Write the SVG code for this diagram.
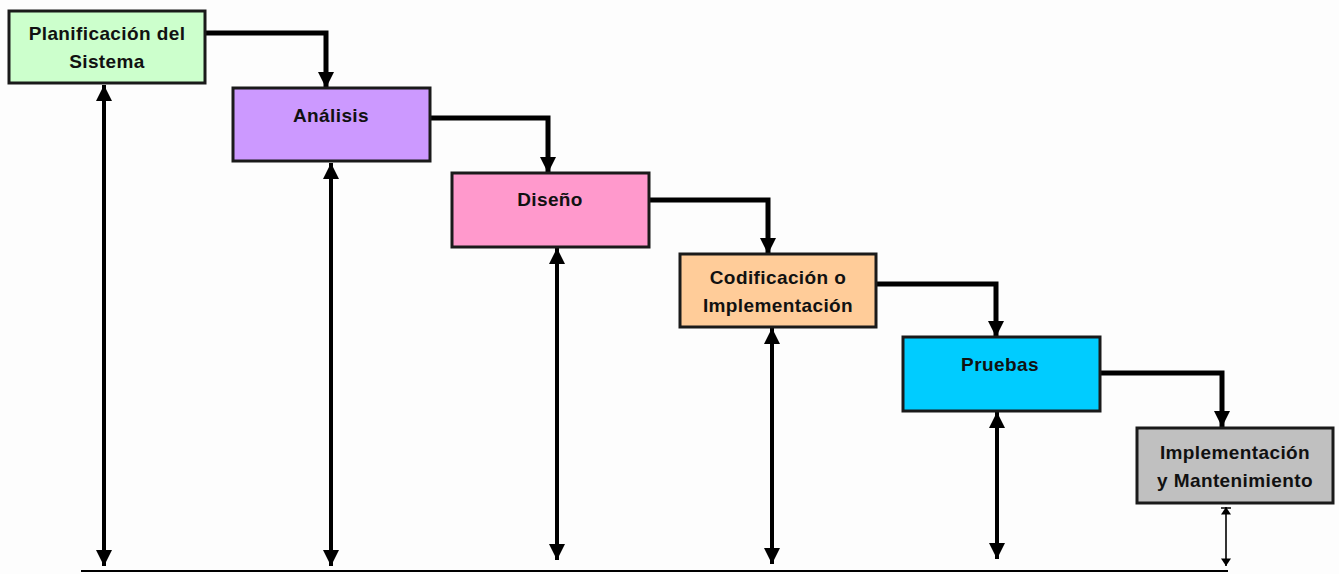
<svg xmlns="http://www.w3.org/2000/svg" width="1339" height="574" viewBox="0 0 1339 574">
<style>
.box{stroke:#1a1a1a;stroke-width:3}
.t{font-family:"Liberation Sans",Arial,sans-serif;font-weight:bold;font-size:19px;letter-spacing:0.4px;fill:#111;text-anchor:middle}
.c{fill:none;stroke:#000;stroke-width:5}
.v{fill:none;stroke:#000;stroke-width:4}
.thin{fill:none;stroke:#000;stroke-width:1.6}
</style>
<defs>
<marker id="ah" markerUnits="userSpaceOnUse" markerWidth="16" markerHeight="16" refX="14" refY="7" orient="auto-start-reverse" viewBox="0 0 14 14">
<path d="M0,0 L14,7 L0,14 Z" fill="#000"/>
</marker>
<marker id="ahs" markerUnits="userSpaceOnUse" markerWidth="10" markerHeight="10" refX="6" refY="4" orient="auto-start-reverse" viewBox="0 0 6 8">
<path d="M0,0 L6,4 L0,8 Z" fill="#000"/>
</marker>
</defs>
<rect width="1339" height="574" fill="#fdfdfd"/>
<g id="connectors">
<path class="c" d="M205,33 H326 V88" marker-end="url(#ah)"/>
<path class="c" d="M430,118 H548 V173" marker-end="url(#ah)"/>
<path class="c" d="M649,200 H768 V254" marker-end="url(#ah)"/>
<path class="c" d="M876,284 H996 V337" marker-end="url(#ah)"/>
<path class="c" d="M1100,373 H1222 V427" marker-end="url(#ah)"/>
<path class="v" d="M104,85 V566" marker-start="url(#ah)" marker-end="url(#ah)"/>
<path class="v" d="M331,163 V566" marker-start="url(#ah)" marker-end="url(#ah)"/>
<path class="v" d="M557,248 V560" marker-start="url(#ah)" marker-end="url(#ah)"/>
<path class="v" d="M772,328 V564" marker-start="url(#ah)" marker-end="url(#ah)"/>
<path class="v" d="M997,412 V559" marker-start="url(#ah)" marker-end="url(#ah)"/>
<path class="thin" d="M1226,507 V566" marker-start="url(#ahs)" marker-end="url(#ahs)"/>
<path d="M1221,508 H1231" stroke="#000" stroke-width="1.5"/>
<path d="M81,571 H1228" stroke="#000" stroke-width="2"/>
</g>
<g id="n1">
<rect class="box" x="9" y="11" width="196" height="72" fill="#ccffcc"/>
<text class="t" x="107" y="40">Planificación del</text>
<text class="t" x="107" y="68">Sistema</text>
</g>
<g id="n2">
<rect class="box" x="233" y="88" width="197" height="73" fill="#cc99ff"/>
<text class="t" x="331" y="122">Análisis</text>
</g>
<g id="n3">
<rect class="box" x="452" y="173" width="197" height="74" fill="#ff99cc"/>
<text class="t" x="550" y="206">Diseño</text>
</g>
<g id="n4">
<rect class="box" x="680" y="254" width="196" height="73" fill="#ffcc99"/>
<text class="t" x="778" y="284">Codificación o</text>
<text class="t" x="778" y="312">Implementación</text>
</g>
<g id="n5">
<rect class="box" x="903" y="337" width="197" height="74" fill="#00ccff"/>
<text class="t" x="1000" y="371">Pruebas</text>
</g>
<g id="n6">
<rect class="box" x="1137" y="428" width="196" height="75" fill="#c0c0c0"/>
<text class="t" x="1235" y="459">Implementación</text>
<text class="t" x="1235" y="487">y Mantenimiento</text>
</g>
</svg>
